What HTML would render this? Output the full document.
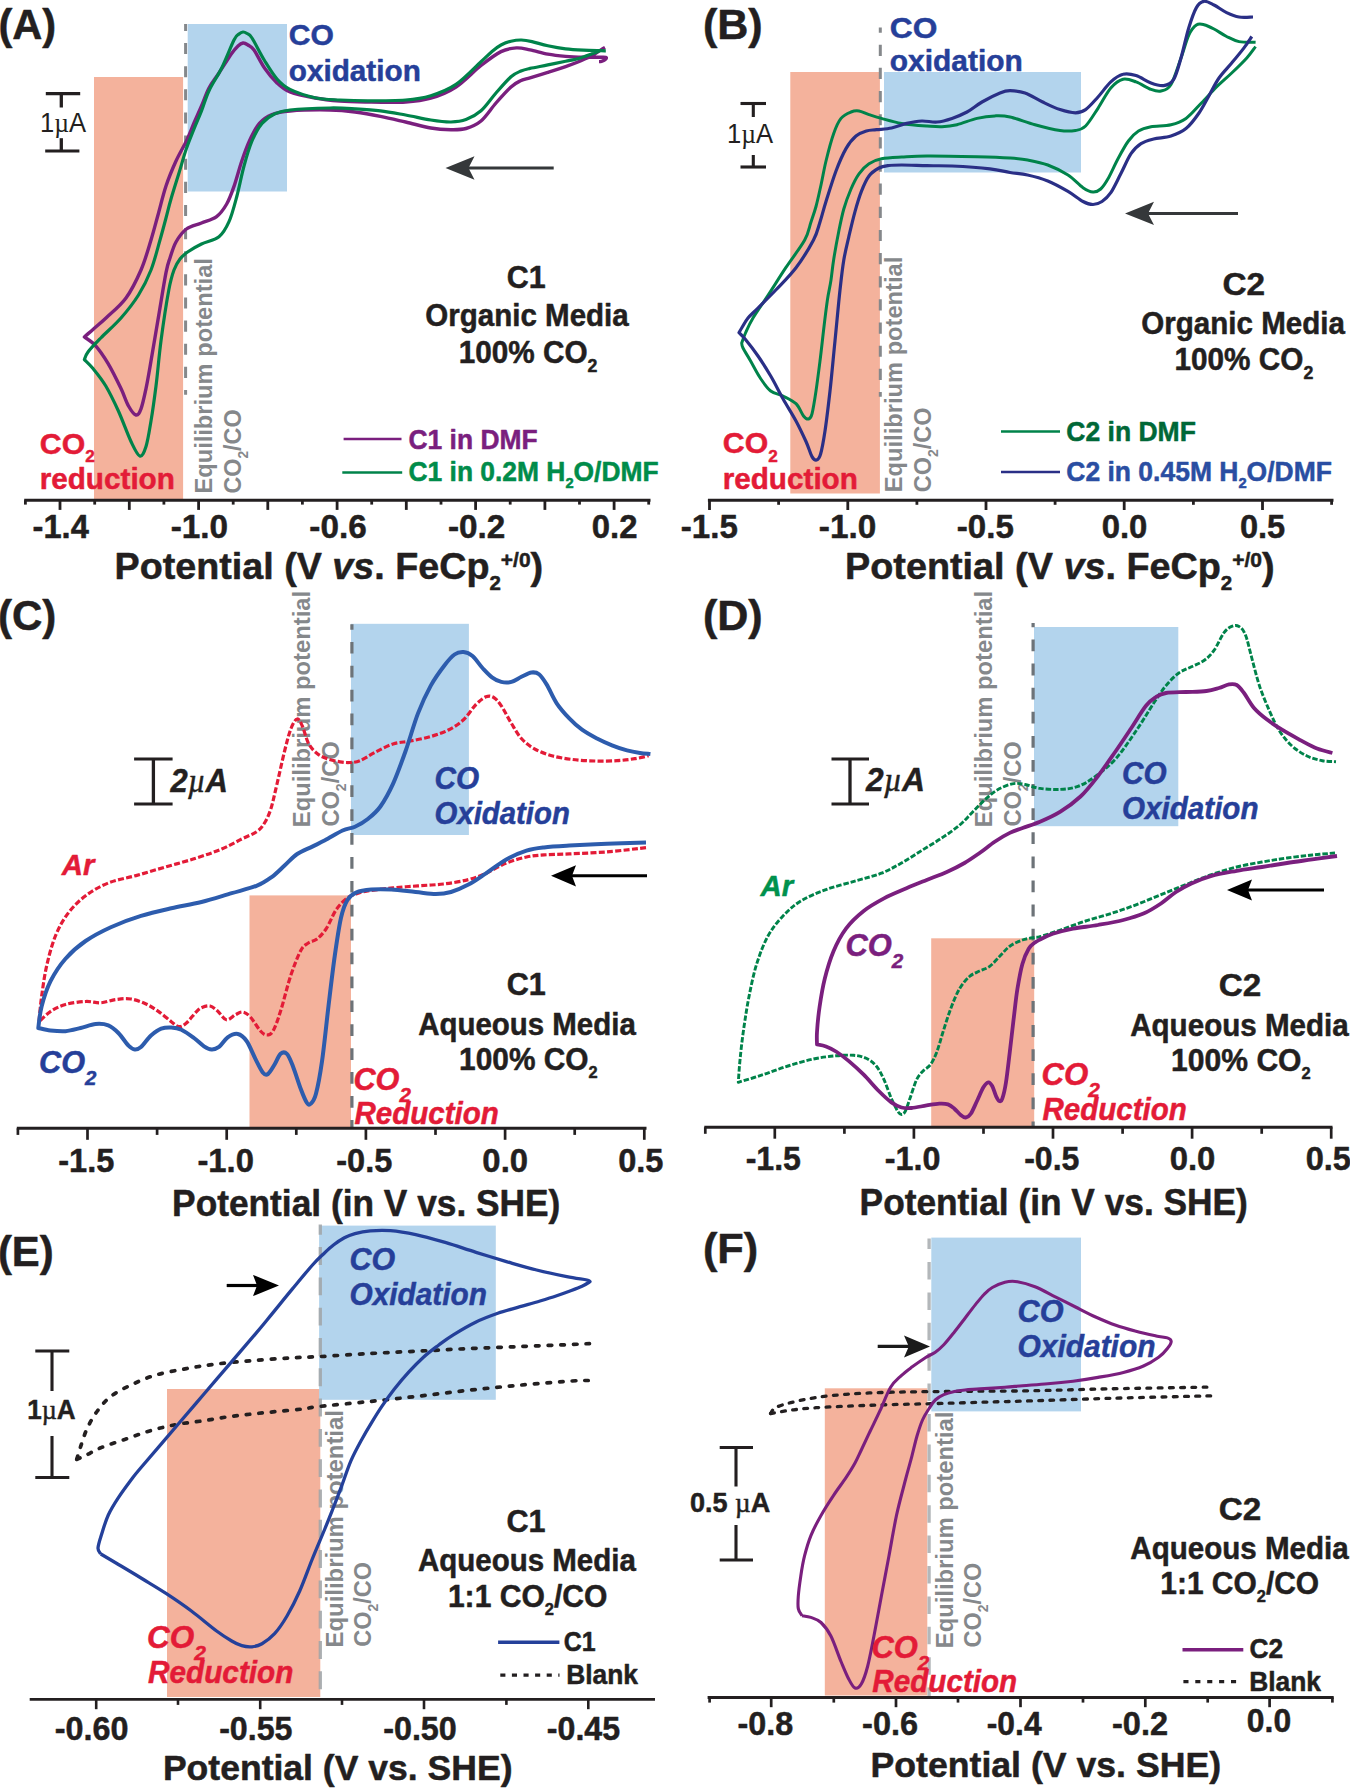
<!DOCTYPE html>
<html lang="en"><head><meta charset="utf-8"><title>Figure</title>
<style>html,body{margin:0;padding:0;background:#fff}svg{display:block}text{white-space:pre;stroke-width:.5px;stroke-linejoin:round}</style>
</head><body>
<svg width="1350" height="1788" viewBox="0 0 1350 1788" font-family='"Liberation Sans", Arial, Helvetica, sans-serif' font-weight="bold" fill="#231f20">
<rect x="94" y="77" width="89.1" height="423" fill="#f4b29c"/>
<rect x="187.7" y="24" width="99.3" height="167.5" fill="#b3d4ed"/>
<line x1="185.6" y1="24" x2="185.6" y2="394.7" stroke="#85888b" stroke-width="3.0" stroke-dasharray="11.1 12.03" stroke-dashoffset="4.13"/>
<path d="M605 47.4C604.3 47.8 603.1 48.4 601 49.8C598.9 51.2 595.7 53.7 592.2 55.6C588.7 57.5 584.2 59.4 579.8 61.3C575.4 63.1 570.9 64.8 565.6 66.7C560.3 68.6 553.7 70.6 547.8 72.4C541.9 74.2 534.6 76.4 530 77.8C525.4 79.2 523.2 79.5 520 81C516.8 82.5 515 83.3 511 87C507 90.7 501 97.3 496 103C491 108.7 486 116.8 481 121C476 125.2 471 127 466 128.5C461 129.9 456.9 129.8 451 129.7C445.1 129.6 438.4 129.3 430.8 128C423.2 126.7 414 123.9 405.6 122C397.2 120.1 388.8 118.1 380.4 116.4C372 114.7 363.4 113.1 355 112C346.6 110.9 340.8 110.2 330 110C319.2 109.8 299.7 110.2 290 111C280.3 111.8 277.1 112.5 272 114.6C266.9 116.7 263.2 119 259.4 123.4C255.6 127.8 252.3 134.7 249.4 141C246.5 147.3 244.4 153.4 241.8 161C239.2 168.6 236.5 179.2 234 186.4C231.5 193.6 229.6 199 226.7 204C223.8 209 220.8 213.4 216.6 216.6C212.4 219.8 206.5 220.9 201.5 223C196.5 225.1 190.7 225.8 186.4 229C182.2 232.2 178.7 237.2 176 242C173.3 246.8 171.7 252.9 170 258C168.3 263.1 167.9 263.1 166 272.7C164.1 282.3 161.2 300.9 158.7 315.6C156.2 330.3 153.1 348.8 151 361C148.9 373.2 147.7 380.6 146 388.6C144.3 396.6 142.7 404.4 141 408.8C139.3 413.2 138.1 415.5 136 415C133.9 414.5 131 410.4 128.5 406C126 401.6 124.4 395.7 121 388.6C117.6 381.5 112.2 370.5 108 363.4C103.8 356.3 99.6 350.2 95.7 345.8C91.8 341.4 86.3 338.5 84.4 337C85.8 335.7 89.4 332.6 93 329.4C96.6 326.2 100.5 323.2 106 318C111.5 312.8 120.2 306 126 298C131.8 290 136.8 279.7 141 270C145.2 260.3 148.2 249.2 151 240C153.8 230.8 155.5 224 158 215C160.5 206 163 195 166 186C169 177 172.6 168.5 176 161C179.4 153.5 183.4 147.3 186.4 141C189.4 134.7 191.5 128.8 194 123C196.5 117.2 199 111.8 201.5 106C204 100.2 206.1 93.5 209 88C211.9 82.5 215.2 78.8 219 73C222.8 67.2 228.8 57.5 232 53C235.2 48.5 236.2 47.7 238 46C239.8 44.3 241.3 43.2 243 43C244.7 42.8 246.2 43.8 248 45C249.8 46.2 251.2 46.2 254 50C256.8 53.8 260.7 62.5 264.5 68C268.3 73.5 272.8 79 277 83C281.2 87 283.7 89.5 290 92C296.3 94.5 306.7 96.5 315 98C323.3 99.5 331.2 100.3 340 101C348.8 101.7 356.9 101.8 367.8 102C378.7 102.2 395.1 102.6 405.6 102C416.1 101.4 422.4 100.7 430.8 98.2C439.2 95.7 447.6 92.5 456 87C464.4 81.5 473.5 71.4 481 65.5C488.5 59.6 495.1 54.5 501 51.6C506.9 48.7 511.6 48.2 516.4 47.9C521.2 47.6 524.8 48.8 530 49.8C535.2 50.8 541.9 53.1 547.8 54.2C553.7 55.3 559.7 55.9 565.6 56.4C571.5 56.9 578.1 57.1 583.3 57.2C588.5 57.4 593 57.3 596.7 57.3C600.5 57.3 604.4 56.9 605.8 57.3C607.2 57.7 605.6 59.1 604.9 59.8C604.2 60.5 602.5 61.1 601.5 61.4C600.5 61.7 599.4 61.6 599 61.6" fill="none" stroke="#7a1f7e" stroke-width="3.4" stroke-linejoin="round" stroke-linecap="butt"/>
<path d="M601 50.2C599.5 50.8 595.7 52.5 592.2 53.8C588.7 55.1 584.2 57 579.8 58.2C575.4 59.5 570.9 60.2 565.6 61.3C560.3 62.4 553.7 63.7 547.8 64.9C541.9 66.1 534.5 67.4 530 68.4C525.5 69.4 524.2 69.6 521 71C517.8 72.4 515.2 73.1 511 76.8C506.8 80.5 501 87.3 496 93C491 98.7 486 106.4 481 110.8C476 115.2 471 117.7 466 119.6C461 121.5 456.9 121.9 451 122C445.1 122.1 438.4 121.2 430.8 120C423.2 118.8 414 116.5 405.6 115C397.2 113.5 388.8 111.8 380.4 110.8C372 109.8 363.4 109.3 355 108.8C346.6 108.3 340.8 107.8 330 108C319.2 108.2 299.2 109 290 110C280.8 111 279.2 111.8 274.5 114C269.8 116.2 265.8 118.9 262 123.4C258.2 127.9 255 133.9 252 141C249 148.1 246.5 156.8 244 166C241.5 175.2 239.3 187.2 236.8 196.5C234.3 205.8 232 215 229 221.7C226 228.4 223.6 233.1 219 236.8C214.4 240.5 206.7 241.5 201.5 244C196.3 246.5 191.2 249.5 187.6 252C184 254.5 182.3 256 180 259C177.7 262 175.9 264.8 174 270C172.1 275.2 171 278.2 168.8 290C166.6 301.8 163.1 324.8 161 340.8C158.9 356.8 157.7 372.6 156 386C154.3 399.4 152.7 410.9 151 421C149.3 431.1 147.9 440.7 146 446.5C144.1 452.3 142.3 456.8 139.8 456C137.3 455.2 134.6 449 131 441.5C127.4 434 122.6 420.2 118.4 411C114.2 401.8 110 393.1 105.8 386C101.6 378.9 96.6 372.9 93 368.5C89.4 364.1 85.8 361.1 84.4 359.6C85 358.3 85.3 355.6 88 352C90.7 348.4 95.3 343.7 100.8 338C106.3 332.3 114.7 325.2 121 318C127.3 310.8 133.5 303 138.5 295C143.5 287 147.4 279.2 151 270C154.6 260.8 157.5 248.7 160 240C162.5 231.3 164.2 224.8 166 218C167.8 211.2 168.8 206.5 171 199C173.2 191.5 176.4 181.4 179 173C181.6 164.6 183.9 155.9 186.4 148.6C188.9 141.3 191.5 135.3 194 129C196.5 122.7 199 117.4 201.5 111C204 104.6 205.6 97.9 209 90.7C212.4 83.5 217.5 76.5 221.7 68C225.9 59.5 231.1 45.7 234 40C236.9 34.3 237.5 35.3 239 34C240.5 32.7 241.7 32.1 243 32C244.3 31.9 245.5 32.5 247 33.5C248.5 34.5 249.1 33.5 252 38C254.9 42.5 260.3 53.7 264.5 60.5C268.7 67.3 272.8 74.2 277 79C281.2 83.8 283.7 86.3 290 89.4C296.3 92.5 306.7 95.9 315 97.7C323.3 99.5 331.2 99.5 340 100C348.8 100.5 356.9 100.8 367.8 100.8C378.7 100.8 395.1 100.8 405.6 100C416.1 99.2 422.4 98.3 430.8 95.7C439.2 93.1 447.6 90.1 456 84.4C464.4 78.7 475 67.2 481 61.7C487 56.2 488.7 54.3 492 51.5C495.3 48.7 497.8 46.7 501 45C504.2 43.3 507.6 42 511 41.2C514.4 40.4 517.9 39.9 521.4 40C524.9 40.1 527.6 40.6 532 41.6C536.4 42.6 542.2 44.6 547.8 45.8C553.4 47 559.7 48.2 565.6 48.9C571.5 49.6 577.4 49.9 583.3 50.2C589.2 50.5 597.2 50.6 601 50.7C604.8 50.8 605 50.9 605.8 50.9" fill="none" stroke="#00834a" stroke-width="3.2" stroke-linejoin="round" stroke-linecap="butt"/>
<text x="-1.6" y="38.8" font-size="43" stroke="#231f20" textLength="57.8" lengthAdjust="spacingAndGlyphs">(A)</text>
<line x1="45.8" y1="93.6" x2="80.2" y2="93.6" stroke="#231f20" stroke-width="3.1"/>
<line x1="45.2" y1="151" x2="79.4" y2="151" stroke="#231f20" stroke-width="3.1"/>
<line x1="61.3" y1="93.6" x2="61.3" y2="107.5" stroke="#231f20" stroke-width="3.3"/>
<line x1="61.3" y1="138.2" x2="61.3" y2="151" stroke="#231f20" stroke-width="3.3"/>
<text x="39.9" y="131.9" font-size="27" stroke="#231f20" style="stroke-width:0" font-weight="normal" textLength="46.1" lengthAdjust="spacingAndGlyphs">1<tspan font-family="Liberation Serif" font-weight="normal">µ</tspan>A</text>
<text x="288.8" y="45.2" font-size="30" fill="#263f99" stroke="#263f99" textLength="45.1" lengthAdjust="spacingAndGlyphs">CO</text>
<text x="288.8" y="80.5" font-size="30" fill="#263f99" stroke="#263f99" textLength="132" lengthAdjust="spacingAndGlyphs">oxidation</text>
<text x="39.8" y="453.7" font-size="30" fill="#e31b37" stroke="#e31b37" textLength="54.9" lengthAdjust="spacingAndGlyphs">CO<tspan font-size="17" dy="8.5">2</tspan></text>
<text x="39.7" y="488.6" font-size="29" fill="#e31b37" stroke="#e31b37" textLength="135.2" lengthAdjust="spacingAndGlyphs">reduction</text>
<text transform="translate(211.8 493.6) rotate(-90)" font-size="24" fill="#85888b" stroke="#85888b" style="stroke-width:0" textLength="235.5" lengthAdjust="spacingAndGlyphs">Equilibrium potential</text>
<text transform="translate(240.5 493.5) rotate(-90)" font-size="24.5" fill="#85888b" stroke="#85888b" style="stroke-width:0" textLength="84" lengthAdjust="spacingAndGlyphs">CO<tspan font-size="14.5" dy="7">2</tspan><tspan dy="-7">/CO</tspan></text>
<path d="M445.5 168L474.5 156.3L468.5 168L474.5 179.7Z" fill="#35383a"/>
<line x1="467.5" y1="168" x2="553.7" y2="168" stroke="#35383a" stroke-width="3.0"/>
<text x="526.2" y="287.6" font-size="32" stroke="#231f20" text-anchor="middle" textLength="38.9" lengthAdjust="spacingAndGlyphs">C1</text>
<text x="527" y="326.2" font-size="30.5" stroke="#231f20" text-anchor="middle" textLength="203.5" lengthAdjust="spacingAndGlyphs">Organic Media</text>
<text x="528.1" y="362.6" font-size="31" stroke="#231f20" text-anchor="middle" textLength="138.7" lengthAdjust="spacingAndGlyphs">100% CO<tspan font-size="18.5" dy="9">2</tspan></text>
<line x1="343.6" y1="439" x2="401.5" y2="439" stroke="#7a1f7e" stroke-width="2.5"/>
<line x1="342.3" y1="472.6" x2="402.2" y2="472.6" stroke="#00834a" stroke-width="2.5"/>
<text x="408.5" y="448.9" font-size="27" fill="#7a1f7e" stroke="#7a1f7e" textLength="129.1" lengthAdjust="spacingAndGlyphs">C1 in DMF</text>
<text x="408.5" y="481.1" font-size="27" fill="#008c4a" stroke="#008c4a" textLength="250.1" lengthAdjust="spacingAndGlyphs">C1 in 0.2M H<tspan font-size="15" dy="7">2</tspan><tspan dy="-7">O/DMF</tspan></text>
<line x1="24.2" y1="500.2" x2="650.5" y2="500.2" stroke="#231f20" stroke-width="3.1"/>
<line x1="60" y1="500.2" x2="60" y2="509.9" stroke="#231f20" stroke-width="2.8"/>
<line x1="129.3" y1="500.2" x2="129.3" y2="509.9" stroke="#231f20" stroke-width="2.8"/>
<line x1="198.6" y1="500.2" x2="198.6" y2="509.9" stroke="#231f20" stroke-width="2.8"/>
<line x1="267.8" y1="500.2" x2="267.8" y2="509.9" stroke="#231f20" stroke-width="2.8"/>
<line x1="337.1" y1="500.2" x2="337.1" y2="509.9" stroke="#231f20" stroke-width="2.8"/>
<line x1="406.3" y1="500.2" x2="406.3" y2="509.9" stroke="#231f20" stroke-width="2.8"/>
<line x1="475.6" y1="500.2" x2="475.6" y2="509.9" stroke="#231f20" stroke-width="2.8"/>
<line x1="544.9" y1="500.2" x2="544.9" y2="509.9" stroke="#231f20" stroke-width="2.8"/>
<line x1="614.1" y1="500.2" x2="614.1" y2="509.9" stroke="#231f20" stroke-width="2.8"/>
<line x1="25.4" y1="500.2" x2="25.4" y2="504.6" stroke="#231f20" stroke-width="2.8"/>
<line x1="94.7" y1="500.2" x2="94.7" y2="504.6" stroke="#231f20" stroke-width="2.8"/>
<line x1="163.9" y1="500.2" x2="163.9" y2="504.6" stroke="#231f20" stroke-width="2.8"/>
<line x1="233.2" y1="500.2" x2="233.2" y2="504.6" stroke="#231f20" stroke-width="2.8"/>
<line x1="302.4" y1="500.2" x2="302.4" y2="504.6" stroke="#231f20" stroke-width="2.8"/>
<line x1="371.7" y1="500.2" x2="371.7" y2="504.6" stroke="#231f20" stroke-width="2.8"/>
<line x1="441" y1="500.2" x2="441" y2="504.6" stroke="#231f20" stroke-width="2.8"/>
<line x1="510.2" y1="500.2" x2="510.2" y2="504.6" stroke="#231f20" stroke-width="2.8"/>
<line x1="579.5" y1="500.2" x2="579.5" y2="504.6" stroke="#231f20" stroke-width="2.8"/>
<line x1="648.7" y1="500.2" x2="648.7" y2="504.6" stroke="#231f20" stroke-width="2.8"/>
<text x="60.7" y="538" font-size="34" stroke="#231f20" text-anchor="middle" textLength="56.2" lengthAdjust="spacingAndGlyphs">-1.4</text>
<text x="199.4" y="538" font-size="34" stroke="#231f20" text-anchor="middle" textLength="57.4" lengthAdjust="spacingAndGlyphs">-1.0</text>
<text x="338" y="538" font-size="34" stroke="#231f20" text-anchor="middle" textLength="57.3" lengthAdjust="spacingAndGlyphs">-0.6</text>
<text x="476.6" y="538" font-size="34" stroke="#231f20" text-anchor="middle" textLength="57.4" lengthAdjust="spacingAndGlyphs">-0.2</text>
<text x="614.6" y="538" font-size="34" stroke="#231f20" text-anchor="middle" textLength="45.7" lengthAdjust="spacingAndGlyphs">0.2</text>
<text x="114.6" y="579.3" font-size="36" stroke="#231f20" textLength="428.5" lengthAdjust="spacingAndGlyphs">Potential (V <tspan font-style="italic">vs</tspan>. FeCp<tspan font-size="19.5" dy="11">2</tspan><tspan font-size="20" dy="-23.3">+/0</tspan><tspan dy="12.3">)</tspan></text>
<rect x="790.3" y="72" width="89.6" height="421.5" fill="#f4b29c"/>
<rect x="884" y="72" width="197" height="100.5" fill="#b3d4ed"/>
<line x1="880.3" y1="27.5" x2="880.3" y2="396.8" stroke="#85888b" stroke-width="3.0" stroke-dasharray="11.2 11.95" stroke-dashoffset="5.95"/>
<path d="M1255.6 46.6C1254.1 48.5 1250.8 53.6 1246.8 58C1242.8 62.4 1236.8 68.2 1231.7 73C1226.7 77.8 1221.5 82 1216.5 87C1211.5 92 1206.5 97.8 1201.4 103C1196.3 108.2 1191.1 114.8 1186 118.4C1180.9 122 1176.8 123.3 1171 124.7C1165.2 126.1 1156.4 125.7 1151 126.7C1145.6 127.8 1142.3 128.6 1138.5 131C1134.7 133.4 1131.8 136.4 1128.4 141C1125 145.6 1121.4 152.4 1118 158.7C1114.6 165 1110.9 173.8 1108 178.8C1105.1 183.9 1103.2 186.8 1100.7 189C1098.2 191.2 1096 192.2 1093 192C1090 191.8 1087.2 190.5 1083 187.7C1078.8 184.9 1073.9 178.8 1068 175C1062.1 171.2 1054.5 167.5 1047.8 165C1041.1 162.5 1033.9 161.2 1027.6 160C1021.3 158.8 1018.4 158.6 1010 158C1001.6 157.4 990.8 157 977 156.7C963.2 156.4 939.5 155.9 927 156C914.5 156.1 909.3 156.6 901.7 157C894.1 157.4 887 157.6 881.5 158.7C876 159.8 872.8 161.2 869 163.7C865.2 166.2 862 169.6 859 173.8C856 178 853.5 183.1 851 189C848.5 194.9 845.8 201.9 843.8 209C841.8 216.1 840.4 223.3 838.7 231.7C837 240.1 835 251.3 833.7 259.4C832.4 267.4 832 273.2 831 280C830 286.8 828.6 291.7 827.4 300C826.2 308.3 824.8 319.8 823.6 330C822.4 340.2 821.3 350.8 820 361C818.7 371.2 817.3 382.2 816 391C814.7 399.8 813.2 409.1 812 413.8C810.8 418.5 809.9 418.6 808.5 419C807.1 419.4 805.6 418.6 803.5 416C801.4 413.4 799.4 407 796 403.7C792.6 400.4 787.2 398.1 783 396C778.8 393.9 774.4 393.9 770.7 391C767 388.1 764 383.5 760.6 378.5C757.2 373.5 753.5 366.1 750.6 361C747.7 355.9 744.5 351 743 348C741.5 345 741.9 343.8 741.7 343C742.3 341.3 743.6 337.2 745.5 333C747.4 328.8 749.2 324.3 753 318C756.8 311.7 762.5 303.8 768 295.4C773.5 287 779.7 276.9 785.8 267.7C791.9 258.5 800.5 247.6 804.7 240C808.9 232.4 809.1 227.6 811 222C812.9 216.4 814.3 212.7 816 206.5C817.7 200.3 819.3 192.6 821 185C822.7 177.4 823.9 169.6 826 161C828.1 152.4 831.2 140.6 833.7 133.5C836.2 126.4 838.1 122 841 118.4C843.9 114.8 848 113.2 851 112C854 110.8 856 110.6 859 111C862 111.4 865.2 113.4 869 114.6C872.8 115.8 876 116.9 881.5 118.4C887 119.9 894.1 122.1 901.7 123.4C909.3 124.7 920.3 125.5 927 126C933.7 126.5 937 126.9 942 126.7C947 126.5 951.2 126.1 957 124.7C962.8 123.3 970.7 119.9 977 118.4C983.3 116.9 989.5 116.1 995 115.9C1000.5 115.7 1003.3 115.5 1010 117C1016.7 118.5 1026.7 122.5 1035 124.7C1043.3 127 1053.2 129.5 1060 130.5C1066.8 131.5 1071.2 131.2 1075.5 130.5C1079.8 129.8 1081.8 129.7 1085.6 126C1089.3 122.3 1093.8 114.6 1098 108.3C1102.2 102 1106.6 92.8 1110.8 88C1115 83.2 1118.8 80.3 1123 79.3C1127.2 78.3 1131.3 80.2 1136 81.9C1140.7 83.6 1146.8 87.9 1151 89.4C1155.2 90.9 1157.7 91.8 1161 91C1164.3 90.2 1167.7 89.9 1171 84.4C1174.3 78.9 1178 66.2 1181 58C1184 49.8 1186.2 40.5 1188.8 35C1191.4 29.5 1193.9 26.7 1196.4 25C1198.9 23.3 1201.1 24 1204 24.7C1206.9 25.4 1210.2 27 1214 29C1217.8 31 1222.4 34.4 1226.6 36.5C1230.8 38.6 1234.2 40.6 1239 41.6C1243.8 42.6 1252.8 42.2 1255.6 42.3" fill="none" stroke="#00834a" stroke-width="3.0" stroke-linejoin="round" stroke-linecap="butt"/>
<path d="M1251.8 36.5C1250.5 38.4 1247.3 43.5 1244 47.9C1240.7 52.3 1235.9 58 1231.7 63C1227.5 68 1222.8 72.5 1219 78C1215.2 83.5 1212.3 89.9 1209 95.7C1205.7 101.5 1202.8 107.5 1199 113C1195.2 118.5 1190.7 124.7 1186 128.5C1181.3 132.3 1176.4 134.2 1171 136C1165.6 137.8 1158.6 137.7 1153.6 139C1148.6 140.3 1144.8 141.2 1141 143.6C1137.2 146 1134.4 148.7 1131 153.7C1127.6 158.7 1124.2 167.3 1120.8 173.8C1117.4 180.3 1113.9 188.1 1110.8 192.7C1107.7 197.3 1105 199.5 1102 201.5C1099 203.5 1096.2 204.5 1093 204.5C1089.8 204.5 1087.2 203.7 1083 201.5C1078.8 199.3 1073.9 194.8 1068 191.4C1062.1 188 1054.5 183.7 1047.8 181C1041.1 178.3 1033.9 176.4 1027.6 175C1021.3 173.6 1016.3 173.5 1010 172.5C1003.7 171.5 999.7 169.9 990 168.8C980.3 167.7 962.5 166.5 952 166C941.5 165.5 935.4 165.9 927 165.7C918.6 165.5 908 165 901.7 165C895.4 165 892.8 165 889 165.5C885.2 166 882.3 166.2 879 168C875.7 169.8 871.9 172.1 869 176C866.1 179.9 863.7 185.5 861.4 191.4C859.1 197.3 857.1 204 855 211.6C852.9 219.2 850.7 228.7 848.8 236.8C846.9 244.9 845.3 251.1 843.8 260C842.3 268.9 841.5 276.5 840 290C838.5 303.5 836.7 324 835 340.8C833.3 357.6 831.7 376 830 391C828.3 406 826.6 420.5 825 431C823.4 441.5 822 449.2 820.6 454C819.2 458.8 818 459.6 816.6 460C815.2 460.4 813.8 459.7 812 456.6C810.2 453.5 808.7 447.4 806 441.5C803.3 435.6 799.8 428.1 796 421C792.2 413.9 787.2 406.2 783 398.7C778.8 391.2 774.9 383.1 770.7 376C766.5 368.9 762.2 362.1 758 356C753.8 349.9 748.7 343.4 745.5 339.5C742.3 335.6 740.1 333.8 739 332.7C739.5 331.9 740.2 330.4 741.7 328C743.2 325.6 745.3 321.3 748 318C750.7 314.7 753.4 312.7 758 308C762.6 303.3 769.5 296.7 775.8 290C782.1 283.3 789.7 276 796 267.7C802.3 259.4 809.5 247.6 813.5 240C817.5 232.4 817.9 228.4 820 222C822.1 215.6 823.3 210 826 201.5C828.7 193 832.7 179.8 836 171C839.3 162.2 842.7 154.4 846 148.6C849.3 142.8 852.6 138.9 856 136C859.4 133.1 863 132.1 866.4 131C869.8 129.9 872.3 130.2 876.5 129.7C880.7 129.2 886.6 129.1 891.6 128C896.6 127 901.7 124.6 906.7 123.4C911.7 122.2 916.8 121.2 921.8 121C926.8 120.8 932 122.4 937 122C942 121.6 947 120.1 952 118.4C957 116.7 962 114.7 967 112C972 109.3 976.5 105.2 982 102C987.5 98.8 995.3 94.9 1000 93C1004.7 91.1 1005.8 90.7 1010 90.7C1014.2 90.7 1019.5 91.1 1025 93C1030.5 94.9 1036.9 99.2 1042.7 102C1048.5 104.8 1054.5 107.8 1060 109.6C1065.5 111.4 1071.2 112.8 1075.5 112.8C1079.8 112.8 1081.8 112.2 1085.6 109.6C1089.3 107 1093.8 101.6 1098 97C1102.2 92.4 1106.6 85.7 1110.8 81.9C1115 78.1 1118.8 75.3 1123 74.3C1127.2 73.2 1131.3 74.1 1136 75.6C1140.7 77 1146.4 81.3 1151 83C1155.6 84.7 1159.9 86.2 1163.7 85.6C1167.5 85 1170.8 83.9 1173.7 79.3C1176.6 74.7 1178.5 66.6 1181 58C1183.5 49.4 1186.2 36.1 1188.8 27.7C1191.4 19.3 1193.9 12 1196.4 7.6C1198.9 3.2 1201.1 1.7 1204 1.3C1206.9 0.9 1210.2 3.1 1214 5C1217.8 6.9 1222.4 10.6 1226.6 12.6C1230.8 14.6 1234.6 16.3 1239 17C1243.4 17.7 1250.7 17 1253 17" fill="none" stroke="#2a2f86" stroke-width="3.2" stroke-linejoin="round" stroke-linecap="butt"/>
<text x="702.9" y="38.6" font-size="43" stroke="#231f20" textLength="59.8" lengthAdjust="spacingAndGlyphs">(B)</text>
<line x1="740.5" y1="103.5" x2="766" y2="103.5" stroke="#231f20" stroke-width="3.1"/>
<line x1="740.5" y1="167" x2="766" y2="167" stroke="#231f20" stroke-width="3.1"/>
<line x1="753.3" y1="103.5" x2="753.3" y2="117" stroke="#231f20" stroke-width="3.1"/>
<line x1="753.3" y1="155" x2="753.3" y2="167" stroke="#231f20" stroke-width="3.1"/>
<text x="726.9" y="142.7" font-size="27" stroke="#231f20" style="stroke-width:0" font-weight="normal" textLength="46.1" lengthAdjust="spacingAndGlyphs">1<tspan font-family="Liberation Serif" font-weight="normal">µ</tspan>A</text>
<text x="889.8" y="37.5" font-size="30" fill="#263f99" stroke="#263f99" textLength="47.5" lengthAdjust="spacingAndGlyphs">CO</text>
<text x="889.8" y="71" font-size="30" fill="#263f99" stroke="#263f99" textLength="133" lengthAdjust="spacingAndGlyphs">oxidation</text>
<text x="722.8" y="453.4" font-size="30" fill="#e31b37" stroke="#e31b37" textLength="54.9" lengthAdjust="spacingAndGlyphs">CO<tspan font-size="17" dy="8.5">2</tspan></text>
<text x="722.7" y="488.6" font-size="29" fill="#e31b37" stroke="#e31b37" textLength="135.2" lengthAdjust="spacingAndGlyphs">reduction</text>
<text transform="translate(901.8 492.2) rotate(-90)" font-size="24" fill="#85888b" stroke="#85888b" style="stroke-width:0" textLength="235.5" lengthAdjust="spacingAndGlyphs">Equilibrium potential</text>
<text transform="translate(930.5 492.3) rotate(-90)" font-size="24.5" fill="#85888b" stroke="#85888b" style="stroke-width:0" textLength="85" lengthAdjust="spacingAndGlyphs">CO<tspan font-size="14.5" dy="7">2</tspan><tspan dy="-7">/CO</tspan></text>
<path d="M1125 213.4L1154 201.7L1148 213.4L1154 225.1Z" fill="#35383a"/>
<line x1="1147" y1="213.4" x2="1238" y2="213.4" stroke="#35383a" stroke-width="3.0"/>
<text x="1243.7" y="295" font-size="32" stroke="#231f20" text-anchor="middle" textLength="42.6" lengthAdjust="spacingAndGlyphs">C2</text>
<text x="1243.1" y="333.5" font-size="30.5" stroke="#231f20" text-anchor="middle" textLength="203.7" lengthAdjust="spacingAndGlyphs">Organic Media</text>
<text x="1243.9" y="369.8" font-size="31" stroke="#231f20" text-anchor="middle" textLength="138.7" lengthAdjust="spacingAndGlyphs">100% CO<tspan font-size="18.5" dy="9">2</tspan></text>
<line x1="1001" y1="431.4" x2="1060" y2="431.4" stroke="#00834a" stroke-width="2.5"/>
<line x1="1001" y1="472" x2="1060" y2="472" stroke="#2a2f86" stroke-width="2.5"/>
<text x="1066.3" y="441" font-size="27" fill="#006837" stroke="#006837" textLength="129.6" lengthAdjust="spacingAndGlyphs">C2 in DMF</text>
<text x="1066.3" y="481.3" font-size="27" fill="#2a4ea2" stroke="#2a4ea2" textLength="265.6" lengthAdjust="spacingAndGlyphs">C2 in 0.45M H<tspan font-size="15" dy="7">2</tspan><tspan dy="-7">O/DMF</tspan></text>
<line x1="707.9" y1="500.3" x2="1333.5" y2="500.3" stroke="#231f20" stroke-width="3.1"/>
<line x1="709.5" y1="500.3" x2="709.5" y2="510" stroke="#231f20" stroke-width="2.8"/>
<line x1="847.8" y1="500.3" x2="847.8" y2="510" stroke="#231f20" stroke-width="2.8"/>
<line x1="986" y1="500.3" x2="986" y2="510" stroke="#231f20" stroke-width="2.8"/>
<line x1="1124.2" y1="500.3" x2="1124.2" y2="510" stroke="#231f20" stroke-width="2.8"/>
<line x1="1262.5" y1="500.3" x2="1262.5" y2="510" stroke="#231f20" stroke-width="2.8"/>
<line x1="778.6" y1="500.3" x2="778.6" y2="504.8" stroke="#231f20" stroke-width="2.8"/>
<line x1="916.9" y1="500.3" x2="916.9" y2="504.8" stroke="#231f20" stroke-width="2.8"/>
<line x1="1055.1" y1="500.3" x2="1055.1" y2="504.8" stroke="#231f20" stroke-width="2.8"/>
<line x1="1193.4" y1="500.3" x2="1193.4" y2="504.8" stroke="#231f20" stroke-width="2.8"/>
<line x1="1331.6" y1="500.3" x2="1331.6" y2="504.8" stroke="#231f20" stroke-width="2.8"/>
<text x="709.3" y="538" font-size="34" stroke="#231f20" text-anchor="middle" textLength="57" lengthAdjust="spacingAndGlyphs">-1.5</text>
<text x="847.5" y="538" font-size="34" stroke="#231f20" text-anchor="middle" textLength="57.4" lengthAdjust="spacingAndGlyphs">-1.0</text>
<text x="985.3" y="538" font-size="34" stroke="#231f20" text-anchor="middle" textLength="57" lengthAdjust="spacingAndGlyphs">-0.5</text>
<text x="1124.5" y="538" font-size="34" stroke="#231f20" text-anchor="middle" textLength="45.7" lengthAdjust="spacingAndGlyphs">0.0</text>
<text x="1262.6" y="538" font-size="34" stroke="#231f20" text-anchor="middle" textLength="45.3" lengthAdjust="spacingAndGlyphs">0.5</text>
<text x="845.1" y="579.3" font-size="36" stroke="#231f20" textLength="429.5" lengthAdjust="spacingAndGlyphs">Potential (V <tspan font-style="italic">vs</tspan>. FeCp<tspan font-size="19.5" dy="11">2</tspan><tspan font-size="20" dy="-23.3">+/0</tspan><tspan dy="12.3">)</tspan></text>
<rect x="249.5" y="895.4" width="101.5" height="233.1" fill="#f4b29c"/>
<rect x="351" y="623.8" width="117.9" height="211.2" fill="#b3d4ed"/>
<text transform="translate(310.3 827.2) rotate(-90)" font-size="24" fill="#85888b" stroke="#85888b" style="stroke-width:0" textLength="236.3" lengthAdjust="spacingAndGlyphs">Equilibrium potential</text>
<text transform="translate(339.1 826.6) rotate(-90)" font-size="24.5" fill="#85888b" stroke="#85888b" style="stroke-width:0" textLength="85.3" lengthAdjust="spacingAndGlyphs">CO<tspan font-size="14.5" dy="7">2</tspan><tspan dy="-7">/CO</tspan></text>
<line x1="351.9" y1="624.3" x2="351.9" y2="1128" stroke="#6d7378" stroke-width="3.2" stroke-dasharray="11.7 12.2" stroke-dashoffset="6.3"/>
<path d="M646 847.6C639.5 848.3 619.8 850.9 607 851.9C594.2 852.9 579.8 853.4 569.3 853.9C558.8 854.4 551.1 854.4 544 854.9C536.9 855.4 532.8 855.6 526.5 857C520.2 858.4 513 860.3 506.3 863C499.6 865.7 492.3 870.5 486 873.3C479.7 876.1 475.6 877.8 468.5 879.6C461.4 881.4 451.8 883 443.4 884C435 885 426.4 885.2 418 885.9C409.6 886.5 401.4 887 393 887.9C384.6 888.8 374 890 367.8 891C361.6 892 359.6 892.6 356 893.9C352.4 895.2 349.3 896.3 346 899C342.7 901.7 339.3 905 336 910C332.7 915 329.2 924.2 326 929C322.8 933.8 319.9 936.7 317 939C314.1 941.3 311 941.1 308.3 943C305.6 944.9 303.7 945 300.8 950.5C297.9 956 294.1 965.6 290.7 975.7C287.3 985.8 283.6 1001.8 280.6 1011C277.7 1020.2 275.3 1027 273 1031C270.7 1035 268.9 1035 266.8 1035C264.7 1035 263.2 1034 260.5 1031C257.8 1028 253.3 1020.2 250.4 1017C247.5 1013.8 245.3 1012.4 242.8 1012C240.3 1011.6 238 1013.5 235.3 1014.8C232.6 1016.1 229.4 1020.4 226.4 1019.8C223.4 1019.2 220.3 1013.3 217.6 1011C214.9 1008.7 212.6 1006.6 210 1006C207.4 1005.4 204.2 1006.6 202 1007.5C199.8 1008.4 199.1 1009 196.5 1011.6C193.9 1014.2 189.3 1020.5 186.4 1023C183.5 1025.5 181.3 1026.9 178.8 1026.7C176.3 1026.5 174.7 1024.2 171.3 1021.7C168 1019.2 162.9 1014.6 158.7 1011.6C154.5 1008.6 150.6 1006.1 146 1004C141.4 1001.9 136 999.8 131 999C126 998.2 120.9 998.9 115.9 999.5C110.9 1000.1 105.8 1002.5 100.8 1002.8C95.8 1003.1 91.5 1001.2 85.6 1001.5C79.7 1001.8 71.4 1002.8 65.5 1004.5C59.6 1006.2 54.8 1008.7 50.4 1011.6C46 1014.5 40.9 1020 39 1021.7C39.4 1017.5 40.3 1005.8 41.6 996.5C42.9 987.2 44.3 976.3 46.6 966.2C48.9 956.1 51.8 944.8 55.4 936C59 927.2 63 920.1 68 913.4C73 906.7 78.9 900.8 85.6 895.7C92.3 890.6 99.9 886.4 108.3 883C116.7 879.6 126.3 878.3 136 875.6C145.7 872.9 156.1 869.7 166.2 866.8C176.3 863.9 187.2 861 196.5 858C205.8 855 214.1 852.2 221.7 849C229.2 845.8 235.9 841.9 241.8 839C247.7 836.1 253.2 834.2 257 831.5C260.8 828.8 262.2 826.8 264.5 823C266.8 819.2 268.7 815.5 270.8 809C272.9 802.5 274.7 793.7 277 784C279.3 774.3 282.3 760.2 284.6 751C286.9 741.8 288.9 733.8 291 728.5C293.1 723.2 295.3 719.4 297.2 719C299.1 718.6 300.4 721.9 302.3 726C304.2 730.1 306.1 739 308.6 743.6C311.1 748.2 314.2 751.2 317.4 753.7C320.5 756.2 323.7 757.4 327.5 758.8C331.3 760.1 336.2 761.2 340 761.8C343.8 762.4 346.7 762.7 350 762.5C353.3 762.3 355.8 762.4 360 760.7C364.2 759 369.5 755.2 375 752.4C380.5 749.6 387.1 745.9 393 744C398.9 742.1 404.3 742.2 410.6 741C416.9 739.8 424.5 738.3 430.8 736.5C437.1 734.7 442.9 732.8 448.4 730C453.8 727.2 458.9 724 463.5 719.8C468.1 715.5 472.2 708.3 476 704.5C479.8 700.7 483.1 698 486 696.8C488.9 695.6 491.1 696 493.7 697.5C496.2 699 498.4 701.5 501.3 705.8C504.2 710.1 508 717.9 511.4 723.4C514.8 728.9 517.6 734.3 521.4 738.5C525.2 742.7 529 745.7 534 748.6C539 751.5 545.4 753.9 551.7 755.7C558 757.5 564.7 758.5 571.8 759.4C578.9 760.3 587 760.8 594.5 761C602 761.2 610.3 761.1 617 760.7C623.7 760.3 629.5 759.5 634.8 758.7C640.1 757.9 646.3 756.2 648.6 755.7" fill="none" stroke="#e31b37" stroke-width="3.2" stroke-linejoin="round" stroke-linecap="butt" stroke-dasharray="6 2.3"/>
<path d="M646 842.6C639.5 842.8 619.8 843.3 607 843.8C594.2 844.3 579.8 845 569.3 845.6C558.8 846.2 551.1 846.6 544 847.4C536.9 848.2 532.8 848.6 526.5 850.6C520.2 852.6 513 855.6 506.3 859.4C499.6 863.2 492.3 869.1 486 873.3C479.7 877.5 474.3 881.5 468.5 884.6C462.7 887.7 456.4 890.4 451 892C445.6 893.6 441.7 894 435.8 894C429.9 894 423 892.7 415.6 892C408.2 891.3 398.8 890 391.4 889.6C384 889.2 377.2 889.1 371.3 889.6C365.4 890.1 360 890.9 356 892.6C352 894.3 349.9 895.8 347.4 900C344.9 904.2 343.1 908.5 341 917.8C338.9 927.1 336.9 940.9 334.8 955.6C332.7 970.3 330.6 988.4 328.5 1006C326.4 1023.6 324.1 1046.7 322 1061.4C319.9 1076.1 317.8 1087 315.9 1094C314 1101 312.3 1102.2 310.8 1103.7C309.3 1105.2 308.7 1105.5 307 1103C305.3 1100.5 303.1 1095.1 300.8 1089C298.5 1082.9 295.3 1072.3 293 1066.4C290.7 1060.5 289 1055.9 286.9 1053.8C284.8 1051.7 282.7 1051.9 280.6 1053.8C278.5 1055.7 276.4 1061.6 274.3 1065C272.2 1068.4 269.9 1072.7 268 1074C266.1 1075.3 265.1 1075.2 263 1072.7C260.9 1070.2 258.1 1064.1 255.4 1058.8C252.7 1053.5 249.5 1045.1 246.6 1041C243.7 1036.9 241 1034.6 237.8 1034C234.7 1033.4 230.8 1035.2 227.7 1037.4C224.6 1039.6 221.7 1044.9 219 1046.9C216.3 1048.9 214.1 1049.5 211.6 1049.4C209.1 1049.3 206.9 1048.2 204 1046.3C201.1 1044.4 197.8 1040.8 194 1038C190.2 1035.2 185.2 1031.5 181.4 1029.7C177.6 1028 174.7 1027.7 171.3 1027.5C167.9 1027.3 164.6 1027.4 161.2 1028.7C157.8 1030 154.4 1032.5 151 1035.5C147.6 1038.5 143.7 1044.6 141 1046.9C138.3 1049.2 136.9 1049.6 134.8 1049.4C132.7 1049.2 131.2 1048.3 128.5 1045.6C125.8 1042.9 121.8 1036.4 118.4 1033C115 1029.6 112.1 1026.9 108.3 1025.4C104.5 1023.9 100.3 1023.6 95.7 1024C91.1 1024.4 85.6 1026.8 80.6 1028C75.6 1029.2 70.5 1030.8 65.5 1031.2C60.5 1031.6 54.9 1031 50.4 1030.5C45.9 1030 40.3 1028.4 38.3 1028C38.8 1024.4 39.6 1014.3 41.6 1006.5C43.6 998.7 46.4 989.4 50.4 981.4C54.4 973.4 59.6 965.4 65.5 958.7C71.4 952 78 946.2 85.6 941C93.1 935.8 101.6 931.4 110.8 927.2C120 923 130.9 919 141 915.9C151.1 912.8 161.2 910.6 171.3 908.3C181.4 906 191.4 904.5 201.5 902C211.6 899.5 222.4 895.9 231.7 893.2C240.9 890.5 250.3 888.3 257 885.6C263.7 882.9 267.4 880.1 272 876.8C276.6 873.4 280.4 869.3 284.6 865.5C288.8 861.7 292.6 857.1 297.2 854C301.8 850.9 307.7 848.9 312.3 846.6C316.9 844.3 319.9 843 325 840.3C330.1 837.6 337.6 832.8 342.6 830.5C347.6 828.2 350.8 828.6 355 826.7C359.2 824.8 363.6 822.4 367.8 819C372 815.6 376.2 812.4 380.4 806.5C384.6 800.6 388.8 793.1 393 783.9C397.2 774.6 401.4 762.8 405.6 751C409.8 739.2 413.8 724.3 418 713.4C422.2 702.5 426.4 693.6 430.8 685.6C435.2 677.6 440.4 670.7 444.4 665.5C448.3 660.3 451.3 656.8 454.5 654.5C457.7 652.2 460.5 651.8 463.5 652C466.5 652.2 469.3 653.3 472.5 656C475.7 658.7 479.2 664.5 482.5 668C485.8 671.5 488.9 675 492 677.3C495.1 679.6 498.1 681.1 501.3 681.9C504.5 682.7 508 682.8 511.4 681.9C514.8 681 518 678.4 521.4 676.8C524.8 675.2 528.6 672.9 531.5 672.5C534.4 672.1 536.5 672.3 539 674.3C541.5 676.3 543.6 679.6 546.6 684.4C549.6 689.2 552.9 697.6 556.7 703.3C560.5 709 565.1 714 569.3 718.4C573.5 722.8 577.4 726.4 582 729.7C586.6 733.1 592 735.9 597 738.5C602 741.1 607 743.3 612 745.3C617 747.3 622.3 749.1 627 750.4C631.7 751.7 636.1 752.4 640 753C643.9 753.6 648.7 753.8 650.4 754" fill="none" stroke="#2d5cad" stroke-width="4.0" stroke-linejoin="round" stroke-linecap="butt"/>
<text x="-2.1" y="630" font-size="43" stroke="#231f20" textLength="58.3" lengthAdjust="spacingAndGlyphs">(C)</text>
<line x1="134.1" y1="759" x2="172.6" y2="759" stroke="#231f20" stroke-width="3.1"/>
<line x1="134.1" y1="804" x2="172.6" y2="804" stroke="#231f20" stroke-width="3.1"/>
<line x1="153.4" y1="759" x2="153.4" y2="804" stroke="#231f20" stroke-width="3.3"/>
<text x="170.5" y="791.6" font-size="33.5" stroke="#231f20" font-style="italic" textLength="57.4" lengthAdjust="spacingAndGlyphs">2<tspan font-family="Liberation Serif" font-weight="normal" font-style="italic">µ</tspan>A</text>
<text x="61.8" y="875" font-size="29.5" fill="#e31b37" stroke="#e31b37" font-style="italic" textLength="32.6" lengthAdjust="spacingAndGlyphs">Ar</text>
<text x="39.1" y="1073.2" font-size="31.5" fill="#263f99" stroke="#263f99" font-style="italic" textLength="57.3" lengthAdjust="spacingAndGlyphs">CO<tspan font-size="21" dy="12">2</tspan></text>
<text x="434.5" y="788.9" font-size="31.5" fill="#263f99" stroke="#263f99" font-style="italic" textLength="44.6" lengthAdjust="spacingAndGlyphs">CO</text>
<text x="434.5" y="824.2" font-size="31.5" fill="#263f99" stroke="#263f99" font-style="italic" textLength="135.4" lengthAdjust="spacingAndGlyphs">Oxidation</text>
<text x="353.5" y="1089.8" font-size="31.5" fill="#e31b37" stroke="#e31b37" font-style="italic" textLength="57.3" lengthAdjust="spacingAndGlyphs">CO<tspan font-size="21" dy="12">2</tspan></text>
<text x="354.4" y="1124.4" font-size="31.5" fill="#e31b37" stroke="#e31b37" font-style="italic" textLength="144.4" lengthAdjust="spacingAndGlyphs">Reduction</text>
<path d="M551 875.8L576 865.2L572 875.8L576 886.4Z" fill="#000"/>
<line x1="571" y1="875.8" x2="647" y2="875.8" stroke="#000" stroke-width="3.0"/>
<text x="526.3" y="995" font-size="31" stroke="#231f20" text-anchor="middle" textLength="39.1" lengthAdjust="spacingAndGlyphs">C1</text>
<text x="527" y="1034.5" font-size="31" stroke="#231f20" text-anchor="middle" textLength="217.6" lengthAdjust="spacingAndGlyphs">Aqueous Media</text>
<text x="528.4" y="1070" font-size="31" stroke="#231f20" text-anchor="middle" textLength="138.6" lengthAdjust="spacingAndGlyphs">100% CO<tspan font-size="17" dy="8">2</tspan></text>
<line x1="16.8" y1="1128.3" x2="646.5" y2="1128.3" stroke="#231f20" stroke-width="3.0"/>
<line x1="87.5" y1="1128.3" x2="87.5" y2="1139.8" stroke="#231f20" stroke-width="2.7"/>
<line x1="226.7" y1="1128.3" x2="226.7" y2="1139.8" stroke="#231f20" stroke-width="2.7"/>
<line x1="365.9" y1="1128.3" x2="365.9" y2="1139.8" stroke="#231f20" stroke-width="2.7"/>
<line x1="505.1" y1="1128.3" x2="505.1" y2="1139.8" stroke="#231f20" stroke-width="2.7"/>
<line x1="644.3" y1="1128.3" x2="644.3" y2="1139.8" stroke="#231f20" stroke-width="2.7"/>
<line x1="17.9" y1="1128.3" x2="17.9" y2="1134.9" stroke="#231f20" stroke-width="2.7"/>
<line x1="157.1" y1="1128.3" x2="157.1" y2="1134.9" stroke="#231f20" stroke-width="2.7"/>
<line x1="296.3" y1="1128.3" x2="296.3" y2="1134.9" stroke="#231f20" stroke-width="2.7"/>
<line x1="435.5" y1="1128.3" x2="435.5" y2="1134.9" stroke="#231f20" stroke-width="2.7"/>
<line x1="574.7" y1="1128.3" x2="574.7" y2="1134.9" stroke="#231f20" stroke-width="2.7"/>
<text x="86.3" y="1172.2" font-size="34" stroke="#231f20" text-anchor="middle" textLength="56.1" lengthAdjust="spacingAndGlyphs">-1.5</text>
<text x="225.7" y="1172.2" font-size="34" stroke="#231f20" text-anchor="middle" textLength="56.5" lengthAdjust="spacingAndGlyphs">-1.0</text>
<text x="364.3" y="1172.2" font-size="34" stroke="#231f20" text-anchor="middle" textLength="56.1" lengthAdjust="spacingAndGlyphs">-0.5</text>
<text x="505.2" y="1172.2" font-size="34" stroke="#231f20" text-anchor="middle" textLength="45.7" lengthAdjust="spacingAndGlyphs">0.0</text>
<text x="640.8" y="1172.2" font-size="34" stroke="#231f20" text-anchor="middle" textLength="45.3" lengthAdjust="spacingAndGlyphs">0.5</text>
<text x="172.1" y="1216.3" font-size="36" stroke="#231f20" textLength="388.2" lengthAdjust="spacingAndGlyphs">Potential (in V vs. SHE)</text>
<rect x="931.2" y="938.3" width="103" height="188.7" fill="#f4b29c"/>
<rect x="1034" y="627" width="144.3" height="199.2" fill="#b3d4ed"/>
<text transform="translate(992.3 827.2) rotate(-90)" font-size="24" fill="#85888b" stroke="#85888b" style="stroke-width:0" textLength="236.3" lengthAdjust="spacingAndGlyphs">Equilibrium potential</text>
<text transform="translate(1020.9 826.6) rotate(-90)" font-size="24.5" fill="#85888b" stroke="#85888b" style="stroke-width:0" textLength="85.3" lengthAdjust="spacingAndGlyphs">CO<tspan font-size="14.5" dy="7">2</tspan><tspan dy="-7">/CO</tspan></text>
<line x1="1033.1" y1="622.9" x2="1033.1" y2="1127" stroke="#6d7378" stroke-width="3.2" stroke-dasharray="11.8 12.3" stroke-dashoffset="7.5"/>
<path d="M1335 853C1331.2 853.3 1320.3 854.2 1312.3 855C1304.3 855.8 1295.4 856.8 1287 858C1278.6 859.2 1270.4 860.5 1262 862C1253.6 863.5 1245.1 864.9 1236.7 867C1228.3 869.1 1220 871.7 1211.5 874.6C1203 877.5 1194.4 881.2 1186 884.6C1177.6 888 1169.3 891.3 1161 894.7C1152.7 898.1 1144.4 901.6 1136 904.8C1127.6 907.9 1119.2 910.9 1110.8 913.6C1102.4 916.3 1094 918.3 1085.6 921C1077.2 923.7 1068 927.4 1060.4 930C1052.8 932.6 1044.2 935.5 1040 936.7C1035.8 937.9 1037.9 936.9 1035 937.4C1032.1 937.9 1026.6 938.5 1022.4 940C1018.2 941.5 1013.6 943.5 1009.8 946.2C1006 948.9 1003.1 952.9 999.7 956.3C996.4 959.7 993.1 963.9 989.7 966.4C986.4 968.9 983 969.3 979.6 971C976.2 972.7 972.9 973.5 969.5 976.5C966.1 979.5 962.5 983.6 959.4 989C956.2 994.4 953.3 1001.8 950.6 1009C947.9 1016.2 945.3 1024.8 943 1032C940.7 1039.2 938.9 1046.6 936.8 1052C934.7 1057.4 932.8 1061.4 930.5 1064.6C928.2 1067.8 925.3 1068.5 923 1071C920.7 1073.5 918.7 1075.3 916.6 1079.7C914.5 1084.1 912.2 1092.2 910.3 1097.4C908.4 1102.7 906.8 1108.4 905.3 1111.2C903.8 1114 902.8 1114.5 901.5 1114.5C900.2 1114.5 899.4 1113.9 897.7 1111.2C896 1108.5 893.7 1103.8 891.4 1098.6C889.1 1093.3 886.5 1085.1 884 1079.7C881.5 1074.3 879.3 1069.6 876.3 1066C873.3 1062.4 870 1060.1 866.2 1058.3C862.4 1056.5 858.7 1055.7 853.7 1055.3C848.7 1054.9 842.7 1055.2 836 1055.8C829.3 1056.4 821.4 1057.3 813.4 1059C805.4 1060.7 796.4 1063.4 788 1066C779.6 1068.6 771.3 1072 763 1074.7C754.7 1077.4 742.4 1081 738.3 1082.3C738.6 1078.1 739.3 1066.2 740.3 1057C741.2 1047.8 742.5 1036.9 744 1026.8C745.5 1016.7 746.9 1007.1 749 996.6C751.1 986.1 753.5 974 756.7 963.9C759.9 953.8 763.6 944 768 936C772.4 928 777.5 921.8 783 916C788.5 910.2 793.6 905.4 800.8 901C808 896.6 816.8 893 826 889.6C835.2 886.2 846.8 883.5 856 880.8C865.2 878.1 873.8 876.2 881.4 873.2C889 870.2 894.8 866.8 901.5 863C908.2 859.2 915 854.7 921.7 850.5C928.4 846.3 935.5 842.2 941.8 838C948.1 833.8 954.4 829.5 959.4 825.3C964.4 821.1 967.8 816.9 972 812.7C976.2 808.5 980.4 803.8 984.6 800C988.8 796.2 992.6 792.7 997.2 790C1001.8 787.3 1007.7 784.7 1012.3 783.8C1016.9 782.9 1020.4 783.7 1025 784.5C1029.6 785.3 1034.1 787.6 1040 788.4C1045.9 789.2 1054.1 789.7 1060.4 789.4C1066.7 789.1 1072.1 788.6 1078 786.4C1083.9 784.2 1089.3 780.9 1095.6 776.3C1101.9 771.7 1109.1 766.2 1115.8 758.7C1122.5 751.2 1129.7 740.2 1136 731C1142.3 721.8 1148.6 710.9 1153.6 703.3C1158.6 695.7 1161.8 690.6 1166 685.6C1170.2 680.6 1174.6 676.1 1178.8 673C1183 669.9 1187.2 668.9 1191.4 666.8C1195.6 664.7 1200.2 663.2 1204 660.5C1207.8 657.8 1210.7 655 1214 650.4C1217.3 645.8 1221 636.7 1224 632.7C1227 628.7 1229.2 627.5 1231.7 626.4C1234.2 625.3 1236.7 625 1239 626.4C1241.3 627.8 1243.4 629.7 1245.5 635C1247.6 640.3 1249.5 649.6 1251.8 658C1254.1 666.4 1256.5 676.8 1259.4 685.6C1262.3 694.4 1266.1 703.2 1269.4 710.8C1272.8 718.4 1275.7 725.1 1279.5 731C1283.3 736.9 1287.4 741.8 1292 746C1296.6 750.2 1302 753.5 1307 756C1312 758.5 1317.5 759.8 1322.3 760.7C1327.1 761.7 1333.7 761.5 1336 761.7" fill="none" stroke="#00834a" stroke-width="2.9" stroke-linejoin="round" stroke-linecap="butt" stroke-dasharray="5.4 1.9"/>
<path d="M1337 856C1332.9 856.6 1320.6 858.2 1312.3 859.4C1304 860.6 1295.4 861.7 1287 863C1278.6 864.3 1270.4 865.7 1262 867C1253.6 868.3 1245.1 869.3 1236.7 870.8C1228.3 872.3 1219 873.7 1211.5 875.8C1204 877.9 1197.3 880.7 1191.4 883.4C1185.5 886.1 1181.1 888.6 1176 892C1170.9 895.4 1166.4 899.9 1161 903.5C1155.6 907.1 1149.8 910.9 1143.5 913.6C1137.2 916.4 1131 918.1 1123.4 920C1115.8 921.9 1106.4 923.5 1098 925C1089.6 926.5 1080.5 927.2 1073 928.7C1065.5 930.2 1058.3 932 1052.8 933.8C1047.3 935.6 1043 938 1040 939.5C1037 941 1036.9 941 1035 942.5C1033.1 944 1030.8 945.2 1028.7 948.8C1026.6 952.4 1024.3 957.2 1022.4 963.9C1020.5 970.6 1018.9 979.8 1017.4 989C1015.9 998.2 1014.9 1008.8 1013.6 1019.3C1012.3 1029.8 1011.1 1041.5 1009.8 1052C1008.5 1062.5 1007.2 1074.5 1006 1082.3C1004.8 1090.1 1003.4 1095.5 1002.3 1098.6C1001.2 1101.7 1000.2 1101.4 999.2 1101C998.2 1100.6 997.2 1098.5 996 1096C994.8 1093.5 993.5 1088.3 992.2 1086C990.9 1083.7 989.9 1082.1 988.4 1082.3C986.9 1082.5 985.3 1084.2 983.4 1087.3C981.5 1090.4 979.1 1096.6 977 1101C974.9 1105.4 972.7 1111 970.8 1113.8C968.9 1116.5 967.4 1117.3 965.7 1117.5C964 1117.7 962.6 1116.5 960.7 1115C958.8 1113.5 956.5 1110.5 954.4 1108.7C952.3 1106.9 950.5 1105.2 948 1104.4C945.5 1103.6 942.8 1103.5 939.3 1103.7C935.8 1103.9 931.3 1104.7 926.7 1105.4C922.1 1106.1 915.8 1107.7 911.6 1108C907.4 1108.3 904.9 1108.4 901.5 1107.5C898.1 1106.6 895.2 1105.2 891.4 1102.4C887.6 1099.7 883.4 1095.6 878.8 1091C874.2 1086.4 868.7 1079.7 863.7 1074.7C858.7 1069.7 853.2 1064.8 848.6 1060.9C844 1057 839.8 1053.9 836 1051.5C832.2 1049.1 829.2 1047.7 826 1046.5C822.8 1045.3 818.5 1044.8 817 1044.5C817 1042.4 816.6 1038.3 817 1032C817.4 1025.7 818.3 1015.5 819.6 1006.7C820.9 997.9 822.4 988.2 824.7 979C827 969.8 830 959.7 833.5 951.3C837 942.9 841 935.3 846 928.6C851 921.9 857.4 916 863.7 911C870 906 876.9 902.2 884 898.4C891.1 894.6 899.4 891.4 906.5 888.3C913.6 885.2 920 882.7 926.7 880C933.4 877.3 940.5 874.8 946.8 872C953.1 869.2 959 866.2 964.5 863C970 859.8 974.6 856.5 979.6 853C984.6 849.5 989.7 845.1 994.7 841.7C999.7 838.4 1005.1 835.2 1009.8 832.9C1014.4 830.6 1017.6 829.9 1022.6 828C1027.6 826.1 1033.7 824.4 1040 821.7C1046.3 819 1053.7 815.8 1060.4 811.6C1067.2 807.4 1074.2 802.4 1080.5 796.5C1086.8 790.6 1092.1 783.6 1098 776C1103.9 768.4 1110.3 758.9 1115.8 751C1121.3 743.1 1126 736 1131 728.5C1136 721 1141.8 711 1146 705.8C1150.2 700.5 1152.7 699.1 1156 697C1159.3 694.9 1161 693.8 1166 693C1171 692.2 1179.2 692.3 1186 692C1192.8 691.7 1201 691.7 1206.5 691C1212 690.3 1215.2 689.1 1219 688C1222.8 686.9 1226 684.9 1229 684.4C1232 683.9 1234.2 683.6 1236.7 685C1239.2 686.4 1241.1 689.2 1244 693C1246.9 696.8 1250.2 703.6 1254 708C1257.8 712.4 1262.3 716 1267 719.6C1271.7 723.2 1276.5 726.3 1282 729.7C1287.5 733.1 1293.9 736.6 1299.7 739.8C1305.5 742.9 1311.5 746.4 1317 748.6C1322.5 750.8 1329.8 752.3 1332.4 753" fill="none" stroke="#7a1f7e" stroke-width="3.8" stroke-linejoin="round" stroke-linecap="butt"/>
<text x="702.9" y="630" font-size="43" stroke="#231f20" textLength="59.8" lengthAdjust="spacingAndGlyphs">(D)</text>
<line x1="831.5" y1="759" x2="869" y2="759" stroke="#231f20" stroke-width="3.1"/>
<line x1="831.5" y1="804" x2="869" y2="804" stroke="#231f20" stroke-width="3.1"/>
<line x1="850" y1="759" x2="850" y2="804" stroke="#231f20" stroke-width="3.3"/>
<text x="866" y="791" font-size="33.5" stroke="#231f20" font-style="italic" textLength="58.9" lengthAdjust="spacingAndGlyphs">2<tspan font-family="Liberation Serif" font-weight="normal" font-style="italic">µ</tspan>A</text>
<text x="760.6" y="896.3" font-size="29.5" fill="#00914d" stroke="#00914d" font-style="italic" textLength="32.6" lengthAdjust="spacingAndGlyphs">Ar</text>
<text x="845.5" y="955.7" font-size="31.5" fill="#7a1f7e" stroke="#7a1f7e" font-style="italic" textLength="57.8" lengthAdjust="spacingAndGlyphs">CO<tspan font-size="21" dy="12">2</tspan></text>
<text x="1122.1" y="784.2" font-size="31.5" fill="#263f99" stroke="#263f99" font-style="italic" textLength="44.6" lengthAdjust="spacingAndGlyphs">CO</text>
<text x="1122.1" y="819.2" font-size="31.5" fill="#263f99" stroke="#263f99" font-style="italic" textLength="136.4" lengthAdjust="spacingAndGlyphs">Oxidation</text>
<text x="1041.5" y="1084.6" font-size="31.5" fill="#e31b37" stroke="#e31b37" font-style="italic" textLength="58.3" lengthAdjust="spacingAndGlyphs">CO<tspan font-size="21" dy="12">2</tspan></text>
<text x="1042.4" y="1119.5" font-size="31.5" fill="#e31b37" stroke="#e31b37" font-style="italic" textLength="144.4" lengthAdjust="spacingAndGlyphs">Reduction</text>
<path d="M1227 890L1252 879.4L1248 890L1252 900.6Z" fill="#000"/>
<line x1="1247" y1="890" x2="1324" y2="890" stroke="#000" stroke-width="3.0"/>
<text x="1240" y="996" font-size="31" stroke="#231f20" text-anchor="middle" textLength="42.5" lengthAdjust="spacingAndGlyphs">C2</text>
<text x="1239.5" y="1036" font-size="31" stroke="#231f20" text-anchor="middle" textLength="218.6" lengthAdjust="spacingAndGlyphs">Aqueous Media</text>
<text x="1240.9" y="1071" font-size="31" stroke="#231f20" text-anchor="middle" textLength="139.6" lengthAdjust="spacingAndGlyphs">100% CO<tspan font-size="17" dy="8">2</tspan></text>
<line x1="704.3" y1="1127.2" x2="1332.5" y2="1127.2" stroke="#231f20" stroke-width="3.0"/>
<line x1="774.8" y1="1127.2" x2="774.8" y2="1138.7" stroke="#231f20" stroke-width="2.7"/>
<line x1="913.9" y1="1127.2" x2="913.9" y2="1138.7" stroke="#231f20" stroke-width="2.7"/>
<line x1="1053" y1="1127.2" x2="1053" y2="1138.7" stroke="#231f20" stroke-width="2.7"/>
<line x1="1192.1" y1="1127.2" x2="1192.1" y2="1138.7" stroke="#231f20" stroke-width="2.7"/>
<line x1="1331.2" y1="1127.2" x2="1331.2" y2="1138.7" stroke="#231f20" stroke-width="2.7"/>
<line x1="705.3" y1="1127.2" x2="705.3" y2="1133.8" stroke="#231f20" stroke-width="2.7"/>
<line x1="844.4" y1="1127.2" x2="844.4" y2="1133.8" stroke="#231f20" stroke-width="2.7"/>
<line x1="983.5" y1="1127.2" x2="983.5" y2="1133.8" stroke="#231f20" stroke-width="2.7"/>
<line x1="1122.6" y1="1127.2" x2="1122.6" y2="1133.8" stroke="#231f20" stroke-width="2.7"/>
<line x1="1261.7" y1="1127.2" x2="1261.7" y2="1133.8" stroke="#231f20" stroke-width="2.7"/>
<text x="773.3" y="1170.3" font-size="34" stroke="#231f20" text-anchor="middle" textLength="55.3" lengthAdjust="spacingAndGlyphs">-1.5</text>
<text x="912.7" y="1170.3" font-size="34" stroke="#231f20" text-anchor="middle" textLength="55.7" lengthAdjust="spacingAndGlyphs">-1.0</text>
<text x="1051.8" y="1170.3" font-size="34" stroke="#231f20" text-anchor="middle" textLength="55.3" lengthAdjust="spacingAndGlyphs">-0.5</text>
<text x="1192.5" y="1170.3" font-size="34" stroke="#231f20" text-anchor="middle" textLength="45.7" lengthAdjust="spacingAndGlyphs">0.0</text>
<text x="1328.3" y="1170.3" font-size="34" stroke="#231f20" text-anchor="middle" textLength="45.3" lengthAdjust="spacingAndGlyphs">0.5</text>
<text x="859.6" y="1214.7" font-size="36" stroke="#231f20" textLength="388.2" lengthAdjust="spacingAndGlyphs">Potential (in V vs. SHE)</text>
<rect x="167" y="1389" width="153.3" height="308" fill="#f4b29c"/>
<rect x="319.1" y="1225.6" width="176.7" height="174.2" fill="#b3d4ed"/>
<text transform="translate(342.8 1647.4) rotate(-90)" font-size="24" fill="#85888b" stroke="#85888b" style="stroke-width:0" textLength="237.3" lengthAdjust="spacingAndGlyphs">Equilibrium potential</text>
<text transform="translate(371.3 1646.8) rotate(-90)" font-size="24.5" fill="#85888b" stroke="#85888b" style="stroke-width:0" textLength="85" lengthAdjust="spacingAndGlyphs">CO<tspan font-size="14.5" dy="7">2</tspan><tspan dy="-7">/CO</tspan></text>
<line x1="320.3" y1="1224.6" x2="320.3" y2="1698" stroke="#a1a5a8" stroke-opacity="0.88" stroke-width="3.3" stroke-dasharray="17.9 12.4" stroke-dashoffset="7.8"/>
<path d="M76.8 1459.3C77.4 1457.2 78.9 1451.8 80.6 1446.7C82.3 1441.7 84.2 1434.9 86.9 1429C89.6 1423.1 93 1416.9 97 1411.5C101 1406.1 105.1 1400.8 110.8 1396.4C116.5 1392 123.5 1388.6 131 1385C138.5 1381.4 146.8 1377.7 156 1375C165.2 1372.3 176.3 1370.4 186.4 1368.6C196.5 1366.8 205.7 1365.3 216.6 1364C227.5 1362.7 239.7 1361.6 251.9 1360.6C264.1 1359.6 278.3 1358.7 289.7 1358C301.1 1357.3 306.6 1357.3 320 1356.6C333.4 1355.8 353.6 1354.4 370.4 1353.5C387.2 1352.6 403.9 1351.8 420.7 1351C437.5 1350.2 454.2 1349.2 471 1348.5C487.8 1347.8 504.7 1347.2 521.5 1346.5C538.3 1345.8 560.4 1345 571.8 1344.5C583.2 1344 587 1343.7 590 1343.5" fill="none" stroke="#231f20" stroke-width="3.7" stroke-linejoin="round" stroke-linecap="round" stroke-dasharray="3.5 9.1"/>
<path d="M76.8 1459.3C78.3 1458.7 81.6 1457.4 85.6 1455.5C89.6 1453.6 94.1 1450.5 100.8 1447.8C107.5 1445 117.6 1441.9 126 1439C134.4 1436.1 142.6 1432.9 151 1430.5C159.4 1428.1 167.9 1426.1 176.3 1424.5C184.7 1422.9 193.1 1422.2 201.5 1421C209.9 1419.8 218.3 1418.2 226.7 1417C235.1 1415.8 243.5 1414.9 251.9 1414C260.3 1413.1 268.6 1412.3 277 1411.5C285.4 1410.7 295.1 1409.8 302.3 1409C309.5 1408.2 308.6 1407.7 320 1406.4C331.4 1405.1 353.6 1403.2 370.4 1401.4C387.2 1399.7 403.9 1397.8 420.7 1395.9C437.5 1394 454.2 1391.8 471 1390C487.8 1388.2 504.7 1386.5 521.5 1385C538.3 1383.5 560.4 1381.8 571.8 1381C583.2 1380.2 587 1380.6 590 1380.5" fill="none" stroke="#231f20" stroke-width="3.7" stroke-linejoin="round" stroke-linecap="round" stroke-dasharray="3.5 9.1"/>
<path d="M100.8 1554C100.3 1553 97.8 1551.5 98 1548C98.2 1544.5 100.3 1538.5 102 1533C103.7 1527.5 105.6 1520.9 108.3 1515C111 1509.1 114.6 1503.4 118.4 1497.6C122.2 1491.8 127.2 1485.1 131 1480C134.8 1474.9 133.6 1476.3 141.5 1467C149.4 1457.7 167.9 1436.2 178.3 1424C188.8 1411.8 195.6 1403.9 204.2 1393.8C212.8 1383.7 221.4 1373.7 230 1363.6C238.6 1353.5 249 1341.5 255.9 1333.4C262.8 1325.3 265.2 1322.2 271.2 1314.9C277.2 1307.6 285.1 1297.7 292 1289.4C298.9 1281.1 307.3 1270.8 312.5 1265C317.7 1259.2 319.6 1257.7 323.1 1254.3C326.7 1250.9 330.2 1247.5 333.8 1244.8C337.4 1242 340.9 1239.7 344.4 1237.8C347.9 1235.9 350.7 1234.8 355 1233.6C359.3 1232.4 364.5 1231.3 370.4 1230.8C376.3 1230.3 382.9 1230 390.5 1230.6C398.1 1231.2 406.4 1232.6 415.7 1234.6C424.9 1236.6 435.9 1239.8 446 1242.7C456.1 1245.7 465.9 1249.2 476 1252.3C486.1 1255.4 496.3 1258.6 506.4 1261.6C516.5 1264.5 526.5 1267.5 536.6 1270C546.7 1272.5 558.4 1275 566.8 1276.7C575.2 1278.4 583.1 1279.2 587 1280C590.9 1280.8 589.5 1281.4 590 1281.7C588.7 1282.5 585.3 1284.8 582 1286.3C578.7 1287.8 574.3 1289.4 570 1291C565.7 1292.6 561 1294.3 556 1296C551 1297.7 546 1299.2 540 1301C534 1302.8 527 1304.7 520 1306.7C513 1308.8 505.2 1310.7 497.8 1313.3C490.4 1315.9 483 1318.6 475.6 1322.2C468.2 1325.8 459.5 1331 453.3 1334.8C447.1 1338.6 443.4 1341.5 438.5 1345.2C433.6 1348.9 428.6 1352.5 423.7 1357C418.8 1361.5 413.8 1366.5 408.9 1371.9C403.9 1377.3 398.4 1383.9 394 1389.6C389.6 1395.3 385.9 1400.5 382.2 1405.9C378.5 1411.3 375.3 1416.5 371.9 1422.2C368.4 1427.9 365 1433.6 361.5 1440C358 1446.4 354.2 1453.3 351 1460.7C347.8 1468.1 345 1477 342.2 1484.5C339.4 1492 336.9 1498.7 334 1506C331.1 1513.3 328.6 1519.7 325 1528.5C321.4 1537.3 316.5 1548.6 312.3 1559C308.1 1569.4 303.9 1581.5 299.7 1591C295.5 1600.5 291.2 1608.9 287 1616C282.8 1623.1 278.8 1629.1 274.6 1633.7C270.4 1638.3 265.8 1641.5 262 1643.7C258.2 1645.9 255.4 1646.5 252 1646.8C248.6 1647.1 245.2 1646.7 241.8 1645.7C238.4 1644.7 235.9 1643.5 231.7 1641C227.5 1638.5 223.3 1636 216.6 1631C209.9 1626 199.8 1617.3 191.4 1611C183 1604.7 174.4 1598.9 166 1593.4C157.6 1587.9 149.3 1583.1 141 1578C132.7 1572.9 122.7 1567 116 1563C109.3 1559 103.3 1555.5 100.8 1554" fill="none" stroke="#24409a" stroke-width="3.3" stroke-linejoin="round" stroke-linecap="butt"/>
<text x="-2.1" y="1266" font-size="43" stroke="#231f20" textLength="55.8" lengthAdjust="spacingAndGlyphs">(E)</text>
<line x1="35.3" y1="1351" x2="69.3" y2="1351" stroke="#231f20" stroke-width="3.1"/>
<line x1="35.3" y1="1477.5" x2="69.3" y2="1477.5" stroke="#231f20" stroke-width="3.1"/>
<line x1="52" y1="1351" x2="52" y2="1391" stroke="#231f20" stroke-width="3.1"/>
<line x1="52" y1="1436" x2="52" y2="1477.5" stroke="#231f20" stroke-width="3.1"/>
<text x="27.3" y="1419" font-size="27" stroke="#231f20" textLength="48.4" lengthAdjust="spacingAndGlyphs">1<tspan font-family="Liberation Serif" font-weight="normal">µ</tspan>A</text>
<path d="M279 1285.5L253 1274.9L257 1285.5L253 1296.1Z" fill="#000"/>
<line x1="258" y1="1285.5" x2="226.7" y2="1285.5" stroke="#000" stroke-width="3.2"/>
<text x="349.5" y="1269.7" font-size="31.5" fill="#263f99" stroke="#263f99" font-style="italic" textLength="45.6" lengthAdjust="spacingAndGlyphs">CO</text>
<text x="349.5" y="1304.9" font-size="31.5" fill="#263f99" stroke="#263f99" font-style="italic" textLength="137.4" lengthAdjust="spacingAndGlyphs">Oxidation</text>
<text x="147.1" y="1648.1" font-size="31.5" fill="#e31b37" stroke="#e31b37" font-style="italic" textLength="58.8" lengthAdjust="spacingAndGlyphs">CO<tspan font-size="21" dy="12">2</tspan></text>
<text x="148" y="1683" font-size="31.5" fill="#e31b37" stroke="#e31b37" font-style="italic" textLength="145.4" lengthAdjust="spacingAndGlyphs">Reduction</text>
<text x="526" y="1532" font-size="31" stroke="#231f20" text-anchor="middle" textLength="39.1" lengthAdjust="spacingAndGlyphs">C1</text>
<text x="526.9" y="1570.5" font-size="31" stroke="#231f20" text-anchor="middle" textLength="217.9" lengthAdjust="spacingAndGlyphs">Aqueous Media</text>
<text x="527.7" y="1606.5" font-size="31" stroke="#231f20" text-anchor="middle" textLength="159.6" lengthAdjust="spacingAndGlyphs">1:1 CO<tspan font-size="17" dy="8">2</tspan><tspan dy="-8">/CO</tspan></text>
<line x1="498.1" y1="1642.2" x2="559.4" y2="1642.2" stroke="#24409a" stroke-width="3.5"/>
<line x1="500.3" y1="1675.1" x2="559.5" y2="1675.1" stroke="#231f20" stroke-width="3.3" stroke-dasharray="5.1 6.5"/>
<text x="563.7" y="1650.5" font-size="27" stroke="#231f20" textLength="31.9" lengthAdjust="spacingAndGlyphs">C1</text>
<text x="566.2" y="1684" font-size="27" stroke="#231f20" textLength="71.8" lengthAdjust="spacingAndGlyphs">Blank</text>
<line x1="29.7" y1="1699.4" x2="655" y2="1699.4" stroke="#231f20" stroke-width="2.9"/>
<line x1="96.2" y1="1699.4" x2="96.2" y2="1709.2" stroke="#231f20" stroke-width="2.6"/>
<line x1="260.2" y1="1699.4" x2="260.2" y2="1709.2" stroke="#231f20" stroke-width="2.6"/>
<line x1="424" y1="1699.4" x2="424" y2="1709.2" stroke="#231f20" stroke-width="2.6"/>
<line x1="588.3" y1="1699.4" x2="588.3" y2="1709.2" stroke="#231f20" stroke-width="2.6"/>
<line x1="178" y1="1699.4" x2="178" y2="1704.9" stroke="#231f20" stroke-width="2.6"/>
<line x1="342" y1="1699.4" x2="342" y2="1704.9" stroke="#231f20" stroke-width="2.6"/>
<line x1="506.4" y1="1699.4" x2="506.4" y2="1704.9" stroke="#231f20" stroke-width="2.6"/>
<text x="91.7" y="1740.3" font-size="34" stroke="#231f20" text-anchor="middle" textLength="73.7" lengthAdjust="spacingAndGlyphs">-0.60</text>
<text x="255.8" y="1740.3" font-size="34" stroke="#231f20" text-anchor="middle" textLength="73.3" lengthAdjust="spacingAndGlyphs">-0.55</text>
<text x="420" y="1740.3" font-size="34" stroke="#231f20" text-anchor="middle" textLength="73.7" lengthAdjust="spacingAndGlyphs">-0.50</text>
<text x="583.5" y="1740.3" font-size="34" stroke="#231f20" text-anchor="middle" textLength="73.3" lengthAdjust="spacingAndGlyphs">-0.45</text>
<text x="162.9" y="1780.3" font-size="35" stroke="#231f20" textLength="349.6" lengthAdjust="spacingAndGlyphs">Potential (V vs. SHE)</text>
<rect x="824.8" y="1388.3" width="102.5" height="307.2" fill="#f4b29c"/>
<rect x="931.3" y="1237.6" width="149.7" height="173.8" fill="#b3d4ed"/>
<text transform="translate(952.8 1648.2) rotate(-90)" font-size="24" fill="#85888b" stroke="#85888b" style="stroke-width:0" textLength="236.5" lengthAdjust="spacingAndGlyphs">Equilibrium potential</text>
<text transform="translate(981.3 1647.6) rotate(-90)" font-size="24.5" fill="#85888b" stroke="#85888b" style="stroke-width:0" textLength="85" lengthAdjust="spacingAndGlyphs">CO<tspan font-size="14.5" dy="7">2</tspan><tspan dy="-7">/CO</tspan></text>
<line x1="929.1" y1="1238.5" x2="929.1" y2="1696" stroke="#a9adb0" stroke-opacity="0.88" stroke-width="3.3" stroke-dasharray="17.5 12.9" stroke-dashoffset="6.9"/>
<path d="M770.6 1413.5C771.4 1412.5 772.2 1409.5 775.6 1407.7C779 1405.9 784.1 1404.3 790.8 1402.6C797.5 1400.9 806.8 1399 816 1397.6C825.2 1396.2 835.1 1395.1 846 1394.3C856.9 1393.5 869.6 1392.9 881.4 1392.5C893.2 1392.1 902.4 1392 916.7 1391.8C931 1391.6 948.1 1391.5 967 1391.3C985.9 1391.1 1006 1391.2 1030 1390.8C1054 1390.4 1080.1 1389.4 1110.8 1388.8C1141.5 1388.2 1196.8 1387.3 1214 1387" fill="none" stroke="#231f20" stroke-width="3.3" stroke-linejoin="round" stroke-linecap="round" stroke-dasharray="3.8 7.4"/>
<path d="M770.6 1413.5C774 1413 783.2 1411.2 790.8 1410.2C798.4 1409.2 805.5 1408.4 816 1407.7C826.5 1407 841.1 1406.4 853.7 1405.9C866.3 1405.4 876.8 1405 891.5 1404.6C906.2 1404.2 925.1 1403.9 941.9 1403.4C958.7 1403 977.6 1402.3 992.3 1401.9C1007 1401.5 1010.2 1401.5 1030 1400.9C1049.8 1400.3 1080.1 1399.2 1110.8 1398.3C1141.5 1397.4 1196.8 1396.2 1214 1395.8" fill="none" stroke="#231f20" stroke-width="3.3" stroke-linejoin="round" stroke-linecap="round" stroke-dasharray="3.8 7.4"/>
<path d="M802 1615.7C801.4 1614.5 798.9 1611.9 798.3 1608.6C797.7 1605.3 797.9 1601.5 798.3 1596C798.7 1590.5 799.8 1582.6 800.8 1575.9C801.8 1569.2 802.9 1562.4 804.6 1555.7C806.3 1549 808.2 1542.3 810.9 1535.6C813.6 1528.9 817.2 1522.1 821 1515.4C824.8 1508.7 829.4 1501.6 833.6 1495.3C837.8 1489 842.4 1483 846 1477.6C849.6 1472.2 852.5 1467.6 855 1463C857.5 1458.4 858.8 1455.2 861.3 1450C863.8 1444.8 866.9 1438 870 1431.5C873.1 1425 876.6 1418.1 880 1410.7C883.4 1403.3 887.1 1393.2 890.6 1387.3C894.1 1381.4 897.8 1379 901.3 1375.6C904.8 1372.2 907.8 1370.1 911.9 1367.1C916 1364.1 921.8 1360 925.7 1357.5C929.6 1355 932.3 1354.3 935.3 1352.2C938.3 1350.1 940.6 1348.2 943.8 1344.8C947 1341.4 950.9 1336.4 954.4 1332C957.9 1327.6 961.5 1322.8 965 1318.2C968.5 1313.6 972.4 1308.4 975.6 1304.4C978.8 1300.5 981.2 1297.3 984 1294.5C986.8 1291.7 988.8 1289.5 992.3 1287.5C995.8 1285.5 1000.7 1283.2 1004.9 1282.2C1009.1 1281.2 1012.5 1280.9 1017.5 1281.7C1022.5 1282.5 1028.7 1284.3 1035 1286.8C1041.3 1289.3 1048.5 1293.4 1055.3 1296.8C1062 1300.2 1068.8 1303.6 1075.5 1307C1082.2 1310.4 1088.9 1314 1095.6 1317C1102.3 1320 1109.1 1322.9 1115.8 1325.3C1122.5 1327.7 1129.3 1329.5 1136 1331.3C1142.7 1333.1 1150.8 1334.8 1156 1335.9C1161.2 1337 1164.9 1337 1167.4 1337.9C1169.9 1338.8 1171.2 1339.6 1171.2 1341.4C1171.2 1343.2 1169.5 1345.8 1167.4 1348.5C1165.3 1351.2 1162.6 1354.4 1158.6 1357.3C1154.6 1360.2 1149.4 1363.5 1143.5 1366C1137.6 1368.5 1131 1370.5 1123.4 1372.4C1115.8 1374.3 1106.4 1375.9 1098 1377.4C1089.6 1378.9 1081.4 1380.2 1073 1381.2C1064.6 1382.2 1056.2 1383 1047.8 1383.7C1039.4 1384.5 1029.8 1385.1 1022.6 1385.7C1015.5 1386.3 1012 1386.8 1004.9 1387.3C997.8 1387.8 986.6 1388.5 980 1388.9C973.4 1389.4 969.3 1389.6 965 1390C960.7 1390.4 957.9 1390.7 954.4 1391.5C950.9 1392.3 947 1393.3 943.8 1394.7C940.6 1396.1 937.8 1397.7 935.3 1400C932.8 1402.3 931.2 1405.2 929.1 1408.5C927 1411.8 924.5 1415.4 922.5 1420C920.5 1424.6 918.8 1429.9 917 1436C915.2 1442.1 913.6 1449.5 911.7 1456.8C909.8 1464.1 907.9 1470.2 905.4 1480C902.9 1489.8 899.2 1502.8 896.5 1515.4C893.8 1528 891.5 1542.3 889 1555.7C886.5 1569.1 883.9 1582.6 881.4 1596C878.9 1609.4 876.2 1624.5 873.9 1636.3C871.6 1648 869.7 1658.5 867.6 1666.5C865.5 1674.5 863.4 1680.4 861.3 1684C859.2 1687.6 857.1 1688.8 855 1688C852.9 1687.2 851 1683.4 848.7 1679C846.4 1674.6 844 1668.6 841 1661.5C838 1654.4 834.3 1642.8 831 1636.3C827.7 1629.8 824.4 1625.7 821 1622.5C817.6 1619.3 814.1 1618.5 810.9 1617.4C807.7 1616.3 803.5 1616 802 1615.7" fill="none" stroke="#7a1f7e" stroke-width="3.1" stroke-linejoin="round" stroke-linecap="butt"/>
<text x="702.9" y="1263" font-size="43" stroke="#231f20" textLength="55.3" lengthAdjust="spacingAndGlyphs">(F)</text>
<line x1="719.7" y1="1447.5" x2="753" y2="1447.5" stroke="#231f20" stroke-width="3.1"/>
<line x1="719.7" y1="1560" x2="753" y2="1560" stroke="#231f20" stroke-width="3.1"/>
<line x1="736" y1="1447.5" x2="736" y2="1486.5" stroke="#231f20" stroke-width="3.1"/>
<line x1="736" y1="1525" x2="736" y2="1560" stroke="#231f20" stroke-width="3.1"/>
<text x="689.9" y="1512" font-size="27" stroke="#231f20" textLength="80.3" lengthAdjust="spacingAndGlyphs">0.5 <tspan font-family="Liberation Serif" font-weight="normal">µ</tspan>A</text>
<path d="M930 1346.4L904 1335.4L908.8 1346.4L904 1357.4Z" fill="#1a1a1a"/>
<line x1="909.8" y1="1346.4" x2="877.7" y2="1346.4" stroke="#1a1a1a" stroke-width="3.2"/>
<text x="1017.5" y="1321.5" font-size="31.5" fill="#263f99" stroke="#263f99" font-style="italic" textLength="46" lengthAdjust="spacingAndGlyphs">CO</text>
<text x="1017.5" y="1356.7" font-size="31.5" fill="#263f99" stroke="#263f99" font-style="italic" textLength="138" lengthAdjust="spacingAndGlyphs">Oxidation</text>
<text x="871.4" y="1657.7" font-size="31.5" fill="#e31b37" stroke="#e31b37" font-style="italic" textLength="57.8" lengthAdjust="spacingAndGlyphs">CO<tspan font-size="21" dy="12">2</tspan></text>
<text x="872.3" y="1692.4" font-size="31.5" fill="#e31b37" stroke="#e31b37" font-style="italic" textLength="144.9" lengthAdjust="spacingAndGlyphs">Reduction</text>
<text x="1240" y="1520" font-size="31" stroke="#231f20" text-anchor="middle" textLength="42.5" lengthAdjust="spacingAndGlyphs">C2</text>
<text x="1239.5" y="1558.5" font-size="31" stroke="#231f20" text-anchor="middle" textLength="218.4" lengthAdjust="spacingAndGlyphs">Aqueous Media</text>
<text x="1239.7" y="1594.2" font-size="31" stroke="#231f20" text-anchor="middle" textLength="158.8" lengthAdjust="spacingAndGlyphs">1:1 CO<tspan font-size="17" dy="8">2</tspan><tspan dy="-8">/CO</tspan></text>
<line x1="1182.5" y1="1649.7" x2="1243.3" y2="1649.7" stroke="#7a1f7e" stroke-width="3.5"/>
<line x1="1183.4" y1="1681.7" x2="1242.5" y2="1681.7" stroke="#231f20" stroke-width="3.3" stroke-dasharray="5.1 6.8"/>
<text x="1249.4" y="1658.4" font-size="27" stroke="#231f20" textLength="33.7" lengthAdjust="spacingAndGlyphs">C2</text>
<text x="1249.2" y="1690.5" font-size="27" stroke="#231f20" textLength="71.8" lengthAdjust="spacingAndGlyphs">Blank</text>
<line x1="707.6" y1="1697.4" x2="1333.7" y2="1697.4" stroke="#231f20" stroke-width="3.0"/>
<line x1="771.2" y1="1697.4" x2="771.2" y2="1707.2" stroke="#231f20" stroke-width="2.7"/>
<line x1="896" y1="1697.4" x2="896" y2="1707.2" stroke="#231f20" stroke-width="2.7"/>
<line x1="1020.5" y1="1697.4" x2="1020.5" y2="1707.2" stroke="#231f20" stroke-width="2.7"/>
<line x1="1145.3" y1="1697.4" x2="1145.3" y2="1707.2" stroke="#231f20" stroke-width="2.7"/>
<line x1="1269.6" y1="1697.4" x2="1269.6" y2="1707.2" stroke="#231f20" stroke-width="2.7"/>
<line x1="709.6" y1="1697.4" x2="709.6" y2="1702.6" stroke="#231f20" stroke-width="2.7"/>
<line x1="833.8" y1="1697.4" x2="833.8" y2="1702.6" stroke="#231f20" stroke-width="2.7"/>
<line x1="958" y1="1697.4" x2="958" y2="1702.6" stroke="#231f20" stroke-width="2.7"/>
<line x1="1083" y1="1697.4" x2="1083" y2="1702.6" stroke="#231f20" stroke-width="2.7"/>
<line x1="1207.7" y1="1697.4" x2="1207.7" y2="1702.6" stroke="#231f20" stroke-width="2.7"/>
<line x1="1332.4" y1="1697.4" x2="1332.4" y2="1702.6" stroke="#231f20" stroke-width="2.7"/>
<text x="765.4" y="1734.6" font-size="34" stroke="#231f20" text-anchor="middle" textLength="55.8" lengthAdjust="spacingAndGlyphs">-0.8</text>
<text x="890.1" y="1734.6" font-size="34" stroke="#231f20" text-anchor="middle" textLength="56" lengthAdjust="spacingAndGlyphs">-0.6</text>
<text x="1014.2" y="1734.6" font-size="34" stroke="#231f20" text-anchor="middle" textLength="54.9" lengthAdjust="spacingAndGlyphs">-0.4</text>
<text x="1140" y="1734.6" font-size="34" stroke="#231f20" text-anchor="middle" textLength="56.1" lengthAdjust="spacingAndGlyphs">-0.2</text>
<text x="1269" y="1732" font-size="34" stroke="#231f20" text-anchor="middle" textLength="44.3" lengthAdjust="spacingAndGlyphs">0.0</text>
<text x="870.5" y="1777.2" font-size="35" stroke="#231f20" textLength="350.6" lengthAdjust="spacingAndGlyphs">Potential (V vs. SHE)</text>
</svg>
</body></html>
